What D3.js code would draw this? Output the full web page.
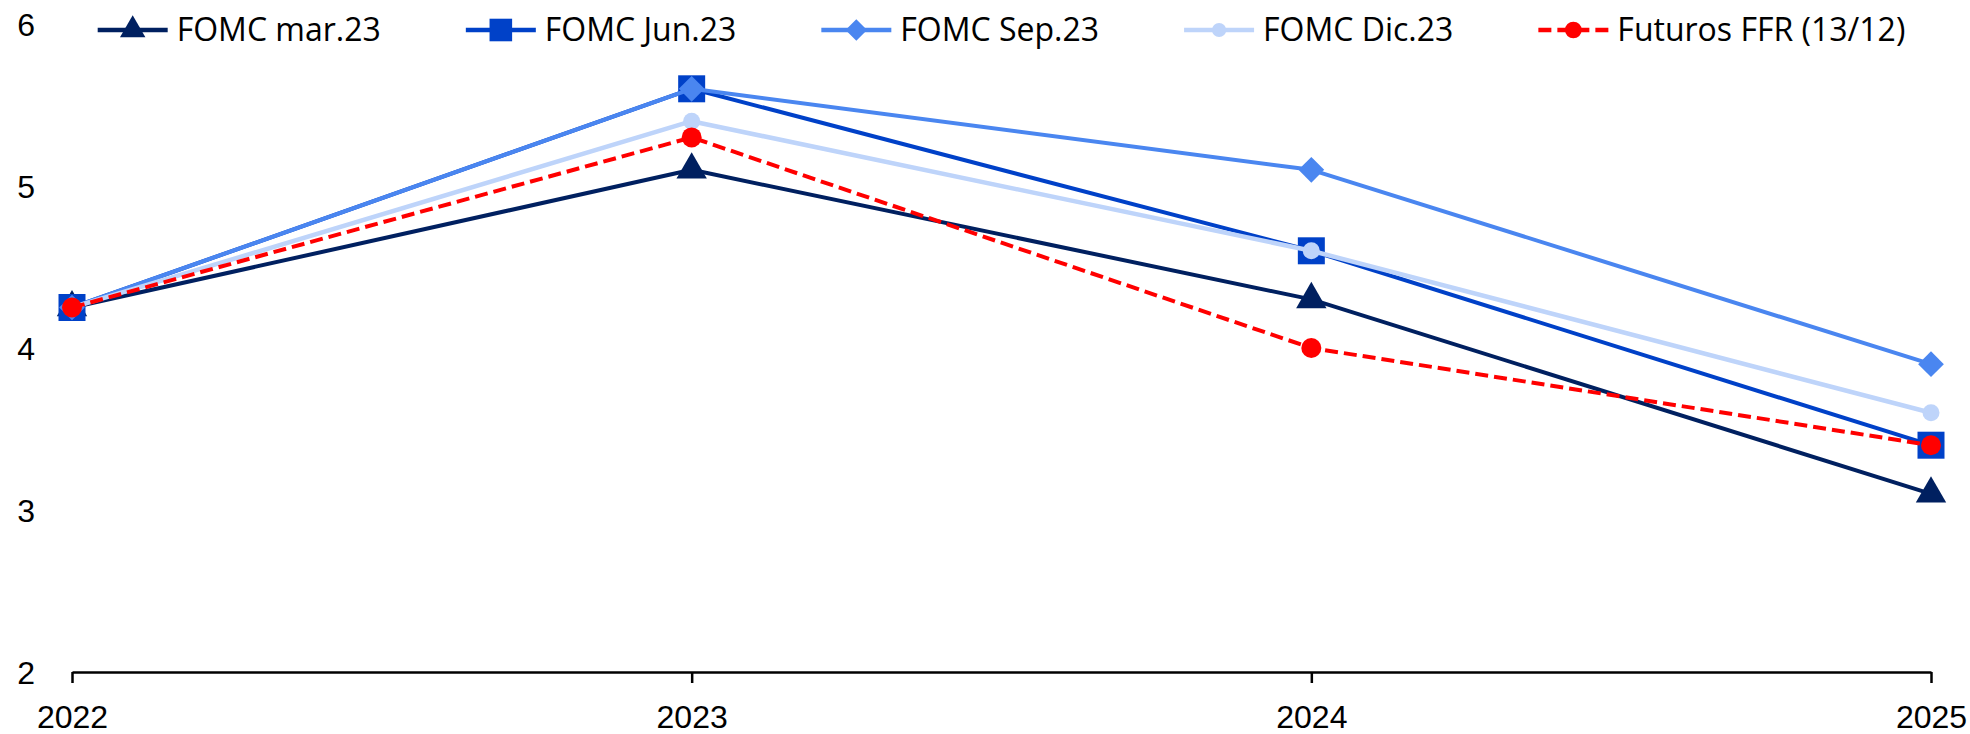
<!DOCTYPE html>
<html>
<head>
<meta charset="utf-8">
<script src="https://cdn.jsdelivr.net/npm/d3@7"></script>
<style>
  body { margin: 0; background: #fff; }
  svg { display: block; font-family: "Open Sans", sans-serif; }
  .axis text { font-size: 32px; fill: #000; }
</style>
</head>
<body>
<svg width="1970" height="734"></svg>
<script>

var years = ["2022", "2023", "2024", "2025"];
var fomcMar = [4.25, 5.1, 4.3, 3.1];
var fomcJun = [4.25, 5.6, 4.6, 3.4];
var fomcSep = [4.25, 5.6, 5.1, 3.9];
var fomcDic = [4.25, 5.4, 4.6, 3.6];
var futuros = [4.25, 5.3, 4.0, 3.4];
var yTicks = [2, 3, 4, 5, 6];
var seriesNames = ["FOMC mar.23", "FOMC Jun.23", "FOMC Sep.23", "FOMC Dic.23", "Futuros FFR (13/12)"];

var seriesStyles = [
    { color: "#002060", width: 4, dash: null, symbol: d3.symbolTriangle, size: 400, rotate: 0 },
    { color: "#0041c8", width: 4, dash: null, symbol: d3.symbolSquare, size: 729, rotate: 0 },
    { color: "#4a86f0", width: 4, dash: null, symbol: d3.symbolSquare, size: 330, rotate: 45 },
    { color: "#bed4fa", width: 4.5, dash: null, symbol: d3.symbolCircle, size: 227, rotate: 0 },
    { color: "#ff0000", width: 4, dash: "13,6", symbol: d3.symbolCircle, size: 314, rotate: 0 }
];

var series = [fomcMar, fomcJun, fomcSep, fomcDic, futuros].map(function(vals, i) {
    return { name: seriesNames[i], style: seriesStyles[i],
             values: vals.map(function(v, j) { return { year: years[j], value: v }; }) };
});

var svg = d3.select("svg"),
    width = +svg.attr("width"),
    height = +svg.attr("height");

var x = d3.scalePoint().domain(years).range([72, 1931]);
var y = d3.scaleLinear().domain([2, 6]).range([672, 24]);

// x axis
var xAxis = svg.append("g")
    .attr("class", "axis")
    .attr("transform", "translate(0," + y(2) + ")")
    .call(d3.axisBottom(x).tickSize(11).tickSizeOuter(0).tickPadding(0));
xAxis.select(".domain").attr("stroke", "#000").attr("stroke-width", 2.5);
xAxis.selectAll(".tick line").attr("stroke", "#000").attr("stroke-width", 2.5);
xAxis.selectAll(".tick text").attr("y", 56).attr("dy", 0);

// y axis, labels only
var yAxis = svg.append("g")
    .attr("class", "axis")
    .attr("transform", "translate(35,0)")
    .call(d3.axisLeft(y).tickValues(yTicks).tickSize(0).tickPadding(0).tickFormat(d3.format("d")));
yAxis.select(".domain").remove();
yAxis.selectAll(".tick text").attr("dy", "0.36em");

var line = d3.line()
    .x(function(d) { return x(d.year); })
    .y(function(d) { return y(d.value); });

var groups = svg.append("g")
    .attr("class", "series")
    .selectAll("g")
    .data(series)
    .enter().append("g");

groups.append("path")
    .attr("d", function(d) { return line(d.values); })
    .attr("fill", "none")
    .attr("stroke", function(d) { return d.style.color; })
    .attr("stroke-width", function(d) { return d.style.width; })
    .attr("stroke-dasharray", function(d) { return d.style.dash; })
    .attr("stroke-linejoin", "round");

groups.each(function(s) {
    d3.select(this).selectAll(".marker")
        .data(s.values)
        .enter().append("path")
          .attr("class", "marker")
          .attr("d", d3.symbol().type(s.style.symbol).size(s.style.size))
          .attr("transform", function(d) {
              return "translate(" + x(d.year) + "," + y(d.value) + ") rotate(" + s.style.rotate + ")";
          })
          .attr("fill", s.style.color);
});

// legend
var legendY = 30;
var legend = svg.append("g").attr("class", "legend");
var items = legend.selectAll("g")
    .data(series)
    .enter().append("g");

items.append("line")
    .attr("x1", 0).attr("x2", 70)
    .attr("y1", legendY).attr("y2", legendY)
    .attr("stroke", function(d) { return d.style.color; })
    .attr("stroke-width", 4.5)
    .attr("stroke-dasharray", function(d) { return d.style.dash; });

items.append("path")
    .attr("d", function(d) { return d3.symbol().type(d.style.symbol).size(d.style.size * 0.7)(); })
    .attr("transform", function(d) { return "translate(35," + legendY + ") rotate(" + d.style.rotate + ")"; })
    .attr("fill", function(d) { return d.style.color; });

items.append("text")
    .attr("x", 79)
    .attr("y", legendY)
    .attr("dy", "0.35em")
    .attr("font-size", "32px")
    .attr("fill", "#000")
    .text(function(d) { return d.name; });

var offsets = [], total = 0;
items.each(function(d, i) {
    var w = 79 + d3.select(this).select("text").node().getComputedTextLength();
    offsets.push(total);
    total += w + (i < series.length - 1 ? 85 : 0);
});
var legendStart = (x.range()[0] + x.range()[1]) / 2 - total / 2;
items.attr("transform", function(d, i) { return "translate(" + (legendStart + offsets[i]) + ",0)"; });

</script>
</body>
</html>
